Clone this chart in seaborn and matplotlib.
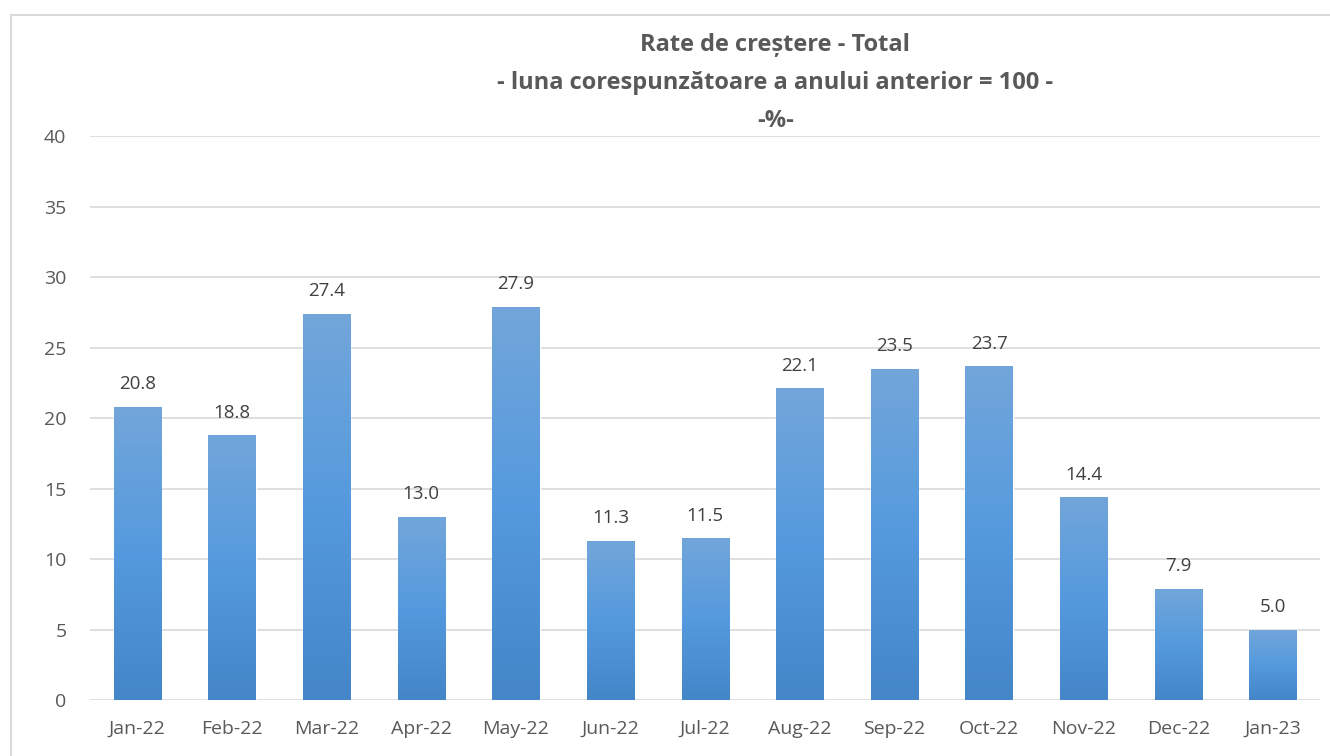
import numpy as np
import pandas as pd
import seaborn as sns
import matplotlib.pyplot as plt
from matplotlib.colors import LinearSegmentedColormap
from matplotlib.lines import Line2D

months = ["Jan-22", "Feb-22", "Mar-22", "Apr-22", "May-22", "Jun-22", "Jul-22",
          "Aug-22", "Sep-22", "Oct-22", "Nov-22", "Dec-22", "Jan-23"]
rates = [20.8, 18.8, 27.4, 13.0, 27.9, 11.3, 11.5, 22.1, 23.5, 23.7, 14.4, 7.9, 5.0]
yticks = [0, 5, 10, 15, 20, 25, 30, 35, 40]

df = pd.DataFrame({"luna": months, "rata": rates})

sns.set_style("white")
plt.rcParams['font.family'] = ['Open Sans', 'DejaVu Sans']

fig = plt.figure(figsize=(13.3, 7.56), dpi=100)
ax = fig.add_axes([0.0677, 0.074, 0.925, 0.746])

sns.barplot(data=df, x="luna", y="rata", color="#5b9bd5", width=0.5, ax=ax,
            saturation=1, zorder=3)

# gradient fill like the Excel bars
grad = LinearSegmentedColormap.from_list("g", ["#4486c8", "#559ade", "#72a6da"])
img = np.linspace(0, 1, 256).reshape(-1, 1)
for p in ax.patches:
    x0, y0 = p.get_x(), p.get_y()
    w, h = p.get_width(), p.get_height()
    im = ax.imshow(img, cmap=grad, origin="lower", aspect="auto",
                   extent=[x0, x0 + w, y0, y0 + h], zorder=4)
    im.set_clip_path(p)

for i, v in enumerate(rates):
    ax.text(i, v + 0.95, f"{v:.1f}", ha="center", va="bottom",
            fontsize=13.5, color="#404040", zorder=5)

ax.set_ylim(0, 40)
ax.set_xlim(-0.5, len(months) - 0.5)
ax.set_yticks(yticks)
ax.yaxis.grid(True, color="#d9d9d9", linewidth=1.2, zorder=0)
ax.set_axisbelow(True)
ax.tick_params(axis="both", length=0, labelsize=14, colors="#595959")
ax.tick_params(axis="x", pad=14)
ax.tick_params(axis="y", pad=17)
ax.set_xlabel("")
ax.set_ylabel("")
for s in ax.spines.values():
    s.set_visible(False)

title_kw = dict(ha="center", va="center", fontsize=17, fontweight="bold",
                color="#595959")
fig.text(0.583, 0.940, "Rate de creștere - Total", **title_kw)
fig.text(0.583, 0.890, "- luna corespunzătoare a anului anterior = 100 -", **title_kw)
fig.text(0.583, 0.840, "-%-", **title_kw)

# chart frame (Excel chart area border)
fig.add_artist(Line2D([11 / 1330, 1], [1 - 15 / 756, 1 - 15 / 756],
                      transform=fig.transFigure, color="#d9d9d9", lw=1.5))
fig.add_artist(Line2D([11 / 1330, 11 / 1330], [0, 1 - 15 / 756],
                      transform=fig.transFigure, color="#d9d9d9", lw=1.5))

fig.savefig("out.png", dpi=100)
